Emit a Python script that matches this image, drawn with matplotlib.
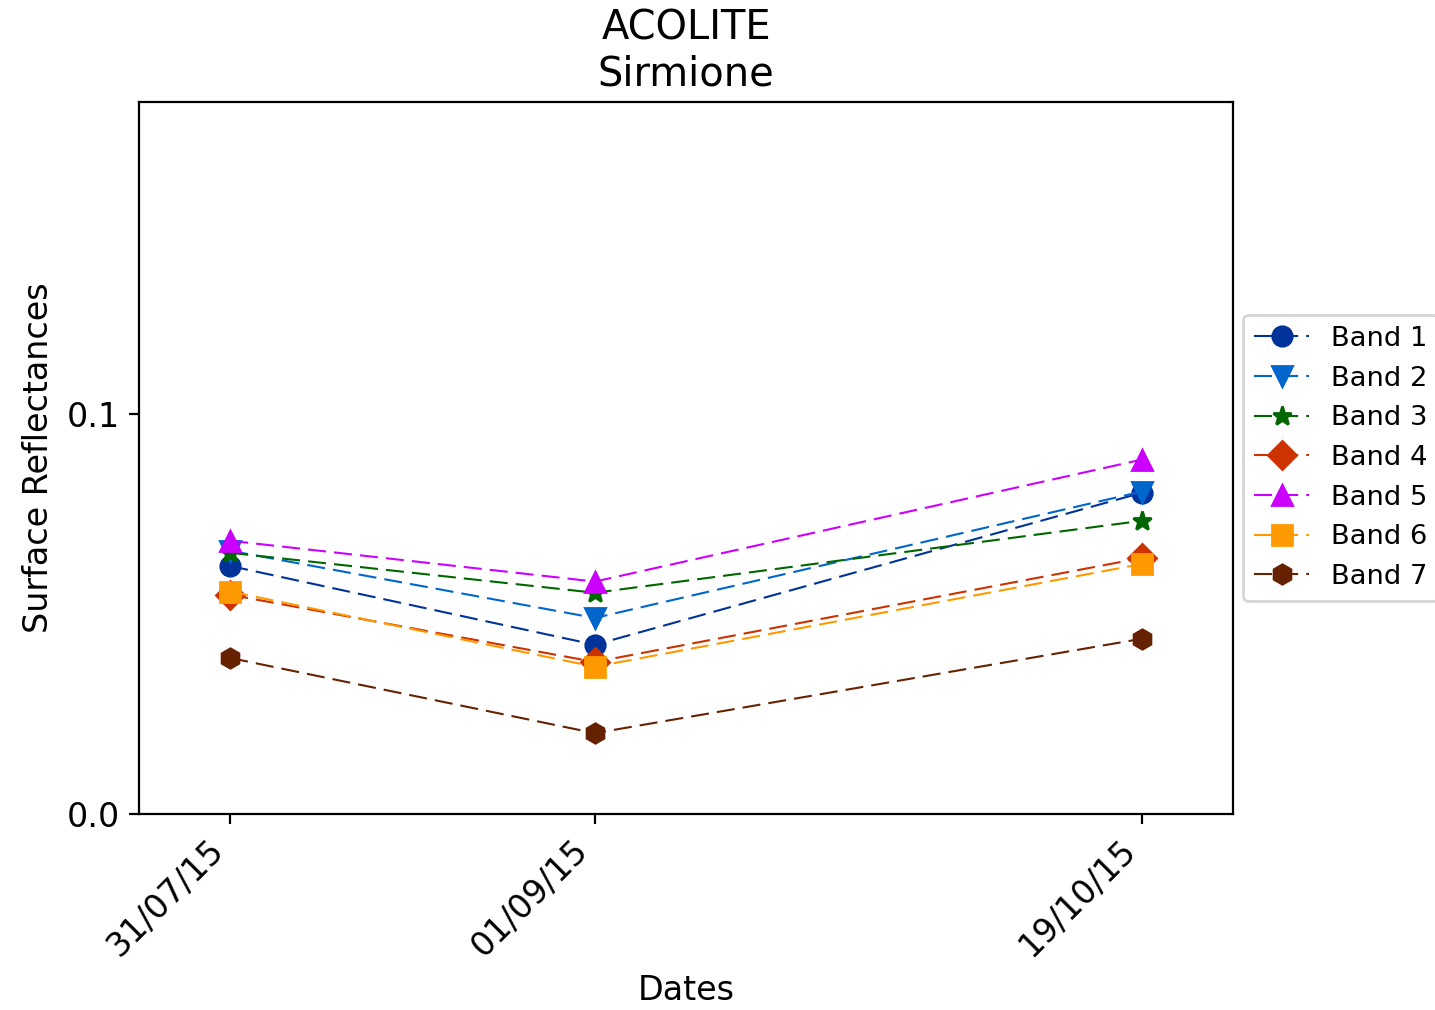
import datetime as dt
import matplotlib
matplotlib.use("Agg")
import matplotlib.pyplot as plt
from matplotlib.ticker import MultipleLocator

plt.rcParams["font.family"] = ["DejaVu Sans"]
plt.rcParams["lines.scale_dashes"] = False

# Acquisition dates and per-band surface reflectances
dates = [dt.datetime(2015, 7, 31), dt.datetime(2015, 9, 1), dt.datetime(2015, 10, 19)]
date_labels = ["31/07/15", "01/09/15", "19/10/15"]

band_1 = [0.0620, 0.0423, 0.0803]
band_2 = [0.0658, 0.0490, 0.0806]
band_3 = [0.0653, 0.0553, 0.0733]
band_4 = [0.0548, 0.0380, 0.0640]
band_5 = [0.0683, 0.0581, 0.0886]
band_6 = [0.0556, 0.0368, 0.0625]
band_7 = [0.0390, 0.0202, 0.0438]

band_names = ["Band 1", "Band 2", "Band 3", "Band 4", "Band 5", "Band 6", "Band 7"]
band_values = [band_1, band_2, band_3, band_4, band_5, band_6, band_7]
band_colors = ["#003399", "#0066cc", "#006600", "#cc3300", "#cc00ff", "#ff9900", "#662200"]
band_markers = ["o", "v", "*", "D", "^", "s", "h"]

fig = plt.figure(figsize=(7.175, 5.05), dpi=200)
ax = fig.add_axes([0.0969, 0.1941, 0.7623, 0.7049])

for name, vals, col, mk in zip(band_names, band_values, band_colors, band_markers):
    ax.plot(dates, vals, linestyle="--", dashes=(6.5, 2.9), linewidth=0.75,
            color=col, marker=mk, markersize=7, label=name)

ax.set_xlim(dates[0] - dt.timedelta(days=8), dates[-1] + dt.timedelta(days=8))
ax.set_xticks(dates)
ax.set_xticklabels(date_labels, rotation=45, ha="right")
ax.set_ylim(0, 0.178)
ax.yaxis.set_major_locator(MultipleLocator(0.1))
ax.tick_params(labelsize=12)

ax.set_title("ACOLITE\nSirmione", fontsize=14.4)
ax.set_xlabel("Dates", fontsize=12)
ax.set_ylabel("Surface Reflectances", fontsize=12)

ax.legend(loc="center left", bbox_to_anchor=(0.997, 0.5), fontsize=9.85)

fig.savefig("out.png", dpi=200)
